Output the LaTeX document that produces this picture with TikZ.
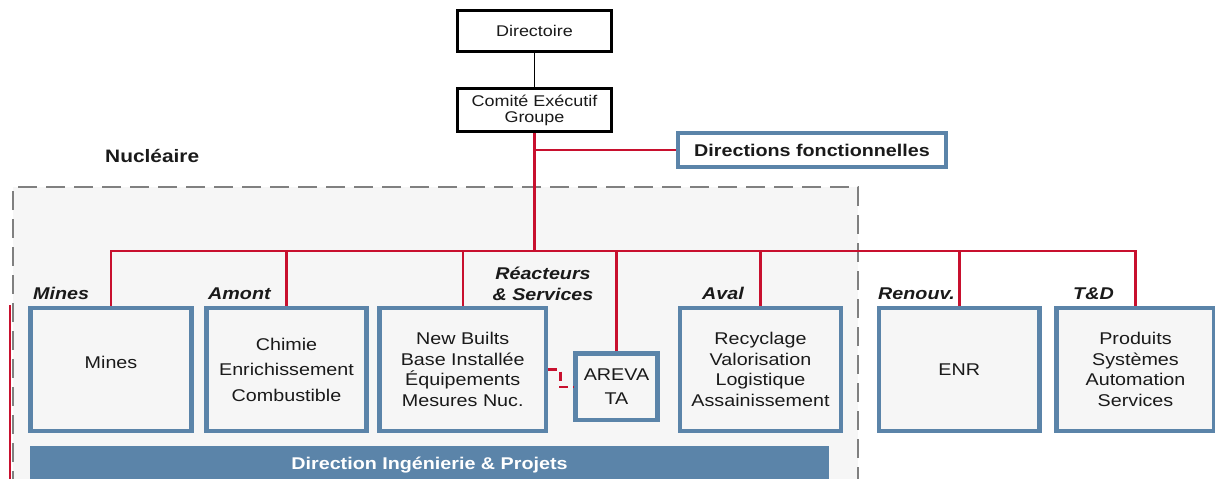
\documentclass[tikz,border=0pt]{standalone}
\usepackage{fontspec}
\setmainfont{Liberation Sans}[FakeStretch=1.16]
\definecolor{bluebd}{HTML}{5B84A9}
\definecolor{redc}{HTML}{C8102E}
\definecolor{bggray}{HTML}{F6F6F6}
\definecolor{dashgray}{HTML}{808080}
\definecolor{txt}{HTML}{1A1A1A}
\begin{document}
\begin{tikzpicture}[x=1pt,y=-1pt,
  topbox/.style={draw=black, line width=2.5pt, fill=white, inner sep=0pt,
    minimum width=154pt, text=txt, align=center, font=\fontsize{15.5}{16}\selectfont},
  orgbox/.style={draw=bluebd, line width=4.5pt, fill=bggray, inner sep=0pt,
    minimum height=123pt, text=txt, align=center, font=\fontsize{17}{20.5}\selectfont},
  seglabel/.style={inner sep=0pt, anchor=base west, text=txt,
    font=\fontsize{17}{20}\selectfont\bfseries\itshape},
  redlink/.style={draw=redc, line width=2.5pt},
  blacklink/.style={draw=black, line width=1.5pt}]
\useasboundingbox (0,0) rectangle (1215,479);
\clip (0,0) rectangle (1215,479);

% Nucleaire area
\fill[bggray] (13,187) rectangle (858,490);
\draw[redc, line width=2.5pt] (10,305) -- (10,490);
\draw[dashgray, line width=2.5pt, dash pattern=on 19pt off 9pt]
  (13,490) -- (13,187) -- (858,187) -- (858,490);
\node[inner sep=0pt, anchor=base west, text=txt, font=\fontsize{18}{20}\selectfont\bfseries]
  (nuc) at (105,162) {Nucléaire};

% top
\node[topbox, minimum height=41pt] (dir) at (534.5,31) {Directoire};
\node[topbox, minimum height=43pt] (ceg) at (534.5,110) {Comité Exécutif\\Groupe};
\node[draw=bluebd, line width=4pt, fill=white, inner sep=0pt, minimum width=268pt,
  minimum height=34pt, text=txt, font=\fontsize{17}{20}\selectfont\bfseries]
  (dfn) at (812,150) {Directions fonctionnelles};

% units
\node[orgbox, minimum width=161pt] (mines) at (111,369.5) {\raisebox{14pt}{Mines}};
\node[orgbox, minimum width=160pt, font=\fontsize{17}{25.5}\selectfont] (amont) at (286.5,369.5)
  {Chimie\\Enrichissement\\Combustible};
\node[orgbox, minimum width=166.5pt] (nb) at (462.75,369.5)
  {New Builts\\Base Installée\\Équipements\\Mesures Nuc.};
\node[orgbox, minimum width=82pt, minimum height=66.5pt, font=\fontsize{17}{24}\selectfont]
  (areva) at (616.5,386.75) {AREVA\\TA};
\node[orgbox, minimum width=161pt] (aval) at (760.5,369.5)
  {Recyclage\\Valorisation\\Logistique\\Assainissement};
\node[orgbox, minimum width=160.5pt] (enr) at (959.25,369.5) {ENR};
\node[orgbox, minimum width=158pt] (td) at (1135.5,369.5)
  {Produits\\Systèmes\\Automation\\Services};

% segment labels
\node[seglabel] (lmines) at (33,299) {Mines};
\node[seglabel] (lamont) at (208,299) {Amont};
\node[seglabel, anchor=base] (lrea1) at (543,279) {Réacteurs};
\node[seglabel, anchor=base] (lrea2) at (543,300) {\& Services};
\node[seglabel] (laval) at (702,299) {Aval};
\node[seglabel] (lren) at (878,299) {Renouv.};
\node[seglabel] (ltd) at (1073,299) {T\&D};

% engineering bar
\node[fill=bluebd, inner sep=0pt, minimum width=799pt, minimum height=40pt, text=white,
  font=\fontsize{17}{20}\selectfont\bfseries] (ing) at (429.5,465.5)
  {Direction Ingénierie \& Projets};

% connectors
\coordinate (bus) at (534.5,251);
\draw[blacklink] (dir.south) -- (ceg.north);
\draw[redlink] (ceg.south) -- (bus);
\draw[redlink] (dfn.west) -| (ceg.south);
\draw[redlink] (mines.north) |- (bus);
\draw[redlink] (amont.north) |- (bus);
\draw[redlink] (nb.north) |- (bus);
\draw[redlink] (areva.north) |- (bus);
\draw[redlink] (aval.north) |- (bus);
\draw[redlink] (enr.north) |- (bus);
\draw[redlink] (td.north) |- (bus);
\draw[redlink, dash pattern=on 9pt off 5pt] (nb.east) -- ++(12,0) |- (areva.west);
\end{tikzpicture}
\end{document}
